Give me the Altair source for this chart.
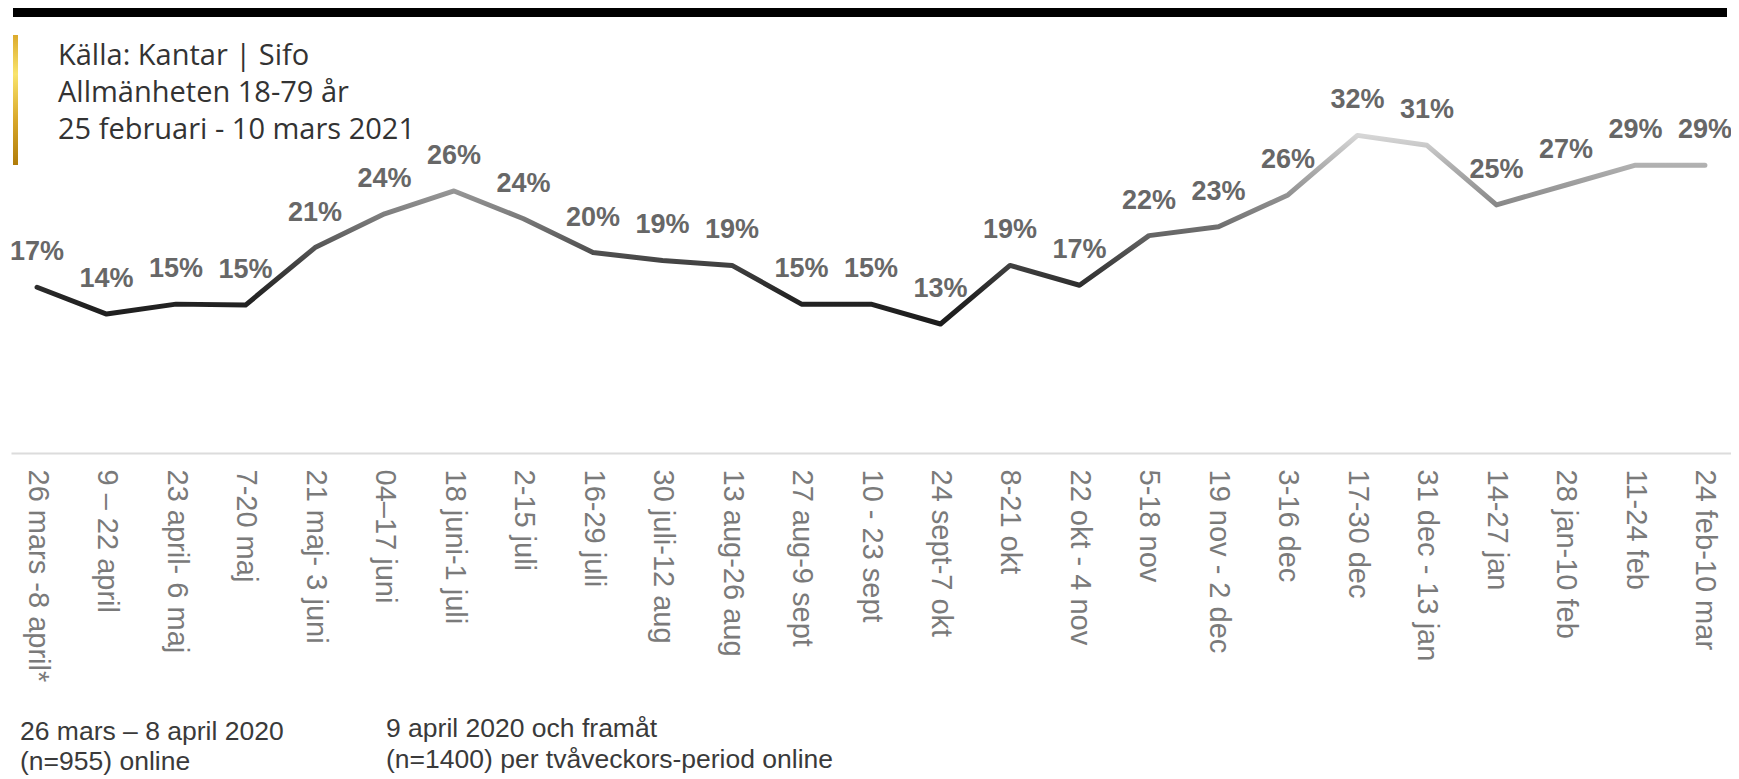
import altair as alt
import pandas as pd

# ---- data ----
periods = [
    "26 mars -8 april*", "9 – 22 april", "23 april- 6 maj", "7-20 maj",
    "21 maj- 3 juni", "04–17 juni", "18 juni-1 juli", "2-15 juli",
    "16-29 juli", "30 juli-12 aug", "13 aug-26 aug", "27 aug-9 sept",
    "10 - 23 sept", "24 sept-7 okt", "8-21 okt", "22 okt - 4 nov",
    "5-18 nov", "19 nov - 2 dec", "3-16 dec", "17-30 dec",
    "31 dec - 13 jan", "14-27 jan", "28 jan-10 feb", "11-24 feb",
    "24 feb-10 mar",
]
values = [
    16.7, 14.0, 15.0, 14.9, 20.7, 24.1, 26.4, 23.6, 20.2, 19.4,
    18.9, 15.0, 15.0, 13.0, 18.9, 16.9, 21.9, 22.8, 26.0, 32.0,
    31.0, 25.0, 27.0, 29.0, 29.0,
]
source_lines = ["Källa: Kantar | Sifo", "Allmänheten 18-79 år", "25 februari - 10 mars 2021"]
note_left = ["26 mars – 8 april 2020", "(n=955) online"]
note_right = ["9 april 2020 och framåt", "(n=1400) per tvåveckors-period online"]

df = pd.DataFrame({"period": periods, "value": values})

W, H = 1720, 397
PAD_TOP = 48
PAD_LEFT = 3
TOTAL_H = 771

x = alt.X(
    "period:N",
    sort=periods,
    scale=alt.Scale(type="point", padding=0.375),
    axis=alt.Axis(
        title=None, labelAngle=90, labelAlign="left", labelBaseline="middle",
        labelPadding=16, ticks=False, grid=False,
        domainColor="#dcdcdc", domainWidth=2,
        labelColor="#7a7a7a", labelFont="Liberation Sans", labelFontSize=29,
        labelLimit=400, labelOverlap=False,
    ),
)
y = alt.Y("value:Q", scale=alt.Scale(domain=[0, 40], nice=False), axis=None)

line_grad = alt.Gradient(
    gradient="linear", x1=0, y1=1, x2=0, y2=0,
    stops=[
        alt.GradientStop(offset=0.0, color="#1c1c1c"),
        alt.GradientStop(offset=0.15, color="#252525"),
        alt.GradientStop(offset=0.32, color="#424242"),
        alt.GradientStop(offset=0.58, color="#7e7e7e"),
        alt.GradientStop(offset=0.84, color="#b0b0b0"),
        alt.GradientStop(offset=1.0, color="#d6d6d6"),
    ],
)

line = alt.Chart(df).mark_line(
    strokeWidth=5, strokeCap="round", strokeJoin="round", stroke=line_grad
).encode(x=x, y=y)

labels = alt.Chart(df).transform_calculate(
    lbl="format(datum.value, '.0f') + '%'"
).mark_text(
    dy=-35, font="Liberation Sans", fontSize=27, fontWeight="bold", color="#676767"
).encode(x=x, y=y, text="lbl:N")

one = pd.DataFrame({"a": [0]})

top_bar = alt.Chart(one).mark_rect(color="#000000").encode(
    x=alt.value(5 - PAD_LEFT), x2=alt.value(1719 - PAD_LEFT),
    y=alt.value(-48), y2=alt.value(-39)
)

gold = alt.Gradient(
    gradient="linear", x1=0, y1=0, x2=0, y2=1,
    stops=[
        alt.GradientStop(offset=0.0, color="#dcaa2c"),
        alt.GradientStop(offset=0.3, color="#f9e46c"),
        alt.GradientStop(offset=0.65, color="#d9a82a"),
        alt.GradientStop(offset=1.0, color="#b07c0a"),
    ],
)
gold_bar = alt.Chart(one).mark_rect(fill=gold).encode(
    x=alt.value(5 - PAD_LEFT), x2=alt.value(10 - PAD_LEFT),
    y=alt.value(-21), y2=alt.value(109)
)

src_df = pd.DataFrame({"t": ["\n".join(source_lines)]})
source = alt.Chart(src_df).mark_text(
    align="left", baseline="alphabetic", lineBreak="\n", lineHeight=37,
    font="Open Sans", fontSize=29, color="#333333",
).encode(x=alt.value(50 - PAD_LEFT), y=alt.value(9), text="t:N")

nl_df = pd.DataFrame({"t": ["\n".join(note_left)]})
nleft = alt.Chart(nl_df).mark_text(
    align="left", baseline="alphabetic", lineBreak="\n", lineHeight=30,
    font="Liberation Sans", fontSize=26.5, color="#3a3a3a",
).encode(x=alt.value(12 - PAD_LEFT), y=alt.value(684), text="t:N")

nr_df = pd.DataFrame({"t": ["\n".join(note_right)]})
nright = alt.Chart(nr_df).mark_text(
    align="left", baseline="alphabetic", lineBreak="\n", lineHeight=31,
    font="Liberation Sans", fontSize=26.5, color="#3a3a3a",
).encode(x=alt.value(378 - PAD_LEFT), y=alt.value(681), text="t:N")

chart = alt.layer(
    top_bar, gold_bar, source, line, labels, nleft, nright
).properties(
    width=W, height=H,
    background="#ffffff",
    autosize=alt.AutoSizeParams(type="none"),
    padding={"left": PAD_LEFT, "top": PAD_TOP, "right": 0, "bottom": TOTAL_H - PAD_TOP - H},
).configure_view(strokeWidth=0, stroke="transparent")

chart.save("out.html", embed_options={"renderer": "svg", "actions": False})
